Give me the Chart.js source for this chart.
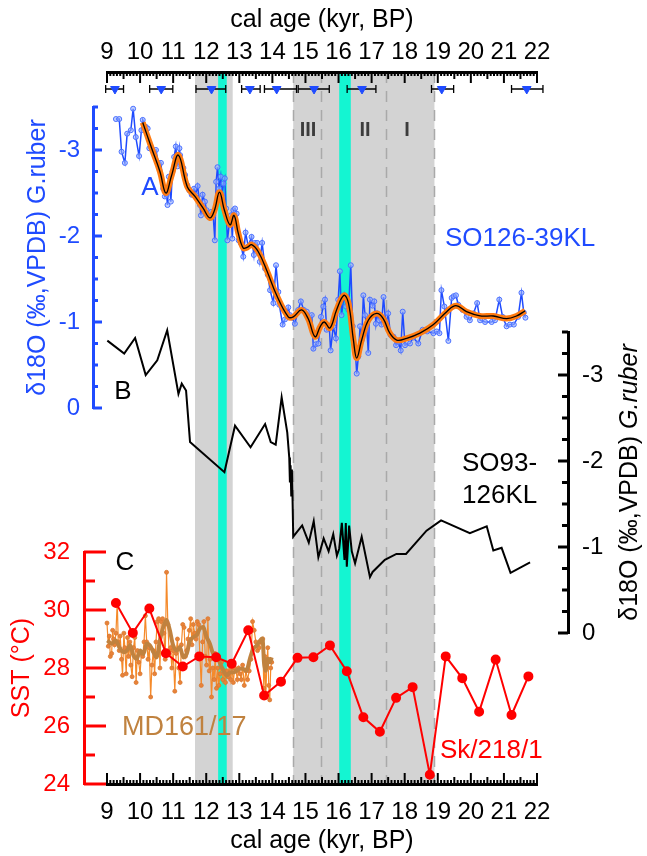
<!DOCTYPE html>
<html><head><meta charset="utf-8">
<script src="https://cdn.jsdelivr.net/npm/chart.js@4.4.1/dist/chart.umd.min.js"></script>
<style>
html,body{margin:0;padding:0;background:#fff;}
#wrap{position:relative;width:647px;height:856px;overflow:hidden;background:#fff;}
#wrap canvas{position:absolute;left:0;top:0;}
</style></head><body>
<div id="wrap">
<canvas id="cBase" width="647" height="856"></canvas>
<canvas id="cAge" width="647" height="856"></canvas>
<canvas id="cAxisA" width="647" height="856"></canvas>
<canvas id="cAxisB" width="647" height="856"></canvas>
<canvas id="cAxisC" width="647" height="856"></canvas>
<canvas id="cDataC" width="647" height="856"></canvas>
<canvas id="cDataB" width="647" height="856"></canvas>
<canvas id="cDataA" width="647" height="856"></canvas>
</div>
<script>
// ---------------- DATA ----------------
const ageTicks = [9,10,11,12,13,14,15,16,17,18,19,20,21,22];

// Age control points (calibrated 14C ages) with 2-sigma ranges
const ageCtrl   = [9.24, 10.64, 12.16, 13.32, 14.13, 15.26, 16.71, 19.12, 21.69];
const ageCtrlLo = [8.96, 10.29, 11.69, 13.07, 13.76, 14.78, 16.26, 18.81, 21.23];
const ageCtrlHi = [9.50, 10.99, 12.59, 13.63, 14.73, 15.72, 17.13, 19.48, 22.18];

// shaded intervals
const grayBands = [[11.66, 12.80], [14.63, 18.90]];
const cyanBands = [[12.36, 12.62], [16.02, 16.37]];
const dashedAges = [14.63, 15.46, 17.45, 18.90];

// A: SO126-39KL d18O G. ruber
const so126Age = [9.27,9.37,9.44,9.54,9.61,9.72,9.79,9.87,9.97,10.04,10.08,10.17,10.23,10.28,10.35,10.40,10.48,10.55,10.63,10.70,10.75,10.80,10.83,10.87,10.93,10.98,11.03,11.08,11.13,11.19,11.21,11.25,11.31,11.36,11.43,11.49,11.56,11.63,11.68,11.74,11.81,11.84,11.89,11.96,12.01,12.09,12.15,12.21,12.26,12.30,12.34,12.39,12.44,12.48,12.52,12.56,12.60,12.64,12.70,12.75,12.79,12.82,12.87,12.92,12.98,13.04,13.12,13.19,13.27,13.37,13.44,13.47,13.54,13.62,13.69,13.78,13.86,13.93,14.03,14.11,14.18,14.21,14.31,14.38,14.48,14.53,14.60,14.68,14.78,14.86,14.95,15.04,15.12,15.19,15.24,15.31,15.39,15.47,15.54,15.59,15.64,15.72,15.76,15.84,15.92,15.99,16.04,16.09,16.17,16.23,16.30,16.37,16.43,16.50,16.55,16.60,16.65,16.70,16.75,16.80,16.85,16.90,16.95,17.03,17.08,17.13,17.17,17.23,17.30,17.36,17.43,17.50,17.57,17.66,17.74,17.81,17.88,17.94,18.01,18.16,18.26,18.41,18.54,18.68,18.87,18.97,19.05,19.11,19.20,19.32,19.42,19.48,19.55,19.62,19.75,19.87,19.97,20.08,20.19,20.28,20.43,20.63,20.73,20.86,20.96,21.08,21.18,21.30,21.43,21.53,21.60,21.65];
const so126D18O = [-3.36,-3.36,-2.98,-2.85,-3.19,-3.23,-3.48,-3.15,-2.93,-3.23,-3.35,-3.27,-3.25,-3.02,-3.02,-2.98,-3.00,-2.85,-2.85,-2.55,-2.46,-2.48,-2.36,-2.69,-2.40,-2.75,-2.92,-3.04,-2.81,-3.02,-2.94,-2.81,-2.79,-2.71,-2.59,-2.53,-2.48,-2.55,-2.48,-2.58,-2.36,-2.24,-2.48,-2.40,-2.30,-2.22,-2.28,-2.24,-1.95,-2.63,-2.80,-2.55,-2.69,-2.48,-2.61,-2.67,-2.32,-1.95,-2.15,-2.24,-1.97,-2.30,-2.32,-2.26,-1.95,-1.92,-1.76,-2.04,-1.88,-1.99,-1.78,-1.92,-1.92,-1.70,-1.92,-1.62,-1.55,-1.37,-1.22,-1.66,-1.35,-1.20,-0.97,-1.03,-1.17,-1.08,-1.05,-0.98,-1.14,-1.24,-1.14,-1.12,-1.05,-1.08,-0.69,-0.74,-0.75,-1.06,-1.18,-1.26,-0.91,-0.95,-0.67,-0.95,-0.81,-1.26,-1.59,-1.08,-1.31,-1.18,-1.14,-1.66,-0.95,-0.71,-0.40,-0.60,-0.95,-0.79,-1.31,-1.08,-0.95,-0.64,-1.26,-1.19,-1.24,-0.98,-1.10,-1.02,-0.97,-1.29,-0.97,-1.10,-0.85,-0.83,-0.73,-0.77,-0.67,-1.12,-0.73,-0.75,-0.82,-0.75,-0.91,-0.89,-0.87,-0.89,-0.87,-1.37,-1.18,-0.78,-1.28,-1.30,-1.31,-1.20,-1.14,-1.06,-1.02,-1.10,-1.22,-1.02,-1.00,-1.00,-1.02,-1.26,-1.06,-0.95,-0.97,-0.97,-1.06,-1.34,-1.11,-1.05];
// A: smoothed record
const so126SmoothAge  = [10.08,10.35,10.60,10.78,10.95,11.16,11.43,11.66,11.91,12.11,12.25,12.40,12.55,12.72,12.84,12.97,13.12,13.25,13.37,13.57,13.83,14.13,14.48,14.63,14.88,15.08,15.29,15.45,15.57,15.74,15.94,16.16,16.30,16.45,16.55,16.70,16.90,17.15,17.35,17.55,17.76,18.06,18.46,18.87,19.27,19.55,19.87,20.28,20.68,21.08,21.38,21.64];
const so126SmoothD18O = [-3.32,-3.02,-2.75,-2.50,-2.70,-2.94,-2.57,-2.46,-2.32,-2.21,-2.30,-2.51,-2.30,-2.13,-2.24,-2.03,-1.86,-1.87,-1.90,-1.82,-1.60,-1.31,-1.06,-1.06,-1.14,-1.04,-0.83,-0.95,-1.00,-0.93,-1.14,-1.31,-1.22,-0.79,-0.58,-0.79,-1.02,-1.10,-1.04,-0.87,-0.79,-0.81,-0.87,-0.97,-1.12,-1.19,-1.12,-1.07,-1.07,-1.04,-1.07,-1.13];

// B: SO93-126KL d18O G. ruber
const so93Age  = [9.01,9.52,9.85,10.17,10.52,10.82,11.16,11.26,11.39,11.51,12.55,12.87,13.34,13.78,13.95,14.10,14.28,14.45,14.51,14.53,14.55,14.57,14.59,14.61,14.63,14.90,15.10,15.25,15.39,15.55,15.70,15.84,15.95,16.02,16.10,16.18,16.22,16.25,16.32,16.40,16.50,16.70,16.95,17.03,17.40,17.75,18.04,18.66,19.10,19.97,20.48,20.68,20.93,21.20,21.79];
const so93D18O = [-3.40,-3.25,-3.43,-3.00,-3.17,-3.52,-2.78,-2.90,-2.82,-2.22,-1.87,-2.41,-2.16,-2.43,-2.22,-2.19,-2.74,-2.33,-2.04,-1.75,-1.95,-1.60,-1.90,-1.55,-1.12,-1.25,-1.05,-1.30,-0.88,-1.10,-0.95,-1.15,-0.90,-0.98,-1.28,-0.85,-1.28,-0.77,-1.25,-0.95,-0.81,-1.12,-0.65,-0.71,-0.85,-0.92,-0.92,-1.19,-1.31,-1.16,-1.24,-0.96,-0.99,-0.70,-0.82];

// C: Sk/218/1 SST
const skAge = [9.27,9.78,10.28,10.78,11.29,11.79,12.30,12.77,13.27,13.75,14.26,14.76,15.24,15.74,16.25,16.75,17.25,17.74,18.24,18.76,19.24,19.74,20.25,20.75,21.23,21.74];
const skSST = [30.24,29.21,30.05,28.51,28.05,28.40,28.37,28.15,29.30,27.05,27.53,28.35,28.37,28.78,27.89,26.30,25.80,26.97,27.34,24.32,28.40,27.65,26.49,28.29,26.38,27.71];

// C: MD161/17 SST
const mdAge = [9.00,9.04,9.07,9.10,9.14,9.17,9.20,9.23,9.27,9.31,9.34,9.37,9.40,9.44,9.47,9.51,9.54,9.58,9.62,9.65,9.69,9.72,9.76,9.80,9.84,9.88,9.92,9.96,10.00,10.04,10.08,10.12,10.16,10.20,10.24,10.28,10.32,10.36,10.40,10.44,10.48,10.52,10.56,10.60,10.64,10.68,10.72,10.76,10.80,10.84,10.88,10.92,10.96,11.00,11.05,11.09,11.13,11.17,11.21,11.25,11.29,11.33,11.37,11.41,11.45,11.49,11.53,11.57,11.61,11.65,11.69,11.73,11.77,11.81,11.85,11.89,11.93,11.97,12.01,12.05,12.09,12.12,12.16,12.20,12.24,12.27,12.31,12.35,12.38,12.42,12.46,12.50,12.54,12.58,12.62,12.66,12.70,12.74,12.78,12.82,12.86,12.90,12.94,12.98,13.02,13.06,13.10,13.15,13.20,13.25,13.30,13.35,13.40,13.45,13.50,13.55,13.60,13.65,13.68,13.71,13.74,13.77,13.80,13.83,13.86,13.89,13.92,13.95,13.98];
const mdSST = [29.55,28.75,29.10,28.40,28.50,29.30,29.00,28.80,29.20,30.30,28.90,28.60,29.10,28.30,27.75,29.20,28.70,27.80,29.05,28.40,28.90,28.10,27.70,28.70,29.05,27.50,28.60,28.20,27.80,28.50,28.40,28.90,29.80,28.90,28.30,28.70,27.00,28.10,28.60,27.80,28.90,29.60,29.70,28.00,29.60,29.70,29.20,28.30,31.30,29.50,28.50,28.70,28.00,28.60,27.20,28.50,29.00,28.00,27.50,28.80,29.50,29.40,28.40,28.60,29.00,29.30,29.70,28.80,29.50,29.20,29.00,29.60,29.50,28.40,27.40,28.90,29.60,28.40,28.10,29.70,27.90,28.30,27.00,28.00,27.60,28.50,27.30,28.00,27.40,27.80,28.20,27.60,27.90,27.50,27.90,27.70,28.10,27.60,28.00,27.50,28.00,27.90,27.60,28.00,27.80,27.60,28.10,27.40,27.90,27.60,27.90,28.30,29.60,29.30,28.90,28.60,28.70,28.90,28.90,29.00,27.30,28.40,27.00,28.10,28.70,27.40,26.90,28.00,28.20,30.10,28.10];
const mdSmoothAge = [9.01,9.14,9.27,9.37,9.49,9.60,9.70,9.80,9.90,10.00,10.10,10.20,10.30,10.40,10.50,10.60,10.70,10.80,10.90,11.00,11.11,11.20,11.31,11.41,11.51,11.61,11.71,11.81,11.91,12.01,12.11,12.21,12.32,12.42,12.52,12.62,12.72,12.82,12.92,13.02,13.12,13.22,13.32,13.42,13.53,13.63,13.70,13.75,13.80,13.86,13.93,13.98];
const mdSmoothSST = [28.95,28.84,28.95,28.72,28.55,28.60,28.78,28.43,28.32,28.60,28.49,28.84,28.78,28.55,28.37,28.95,29.41,29.65,29.30,28.78,28.60,28.72,28.37,28.49,28.95,29.07,29.13,29.36,29.41,29.07,28.84,28.49,28.43,28.15,27.91,27.74,27.85,27.85,27.91,27.97,27.97,27.91,28.32,28.66,28.78,28.95,29.01,28.15,27.91,28.32,28.20,28.37];

// ---------------- STYLE / SETUP ----------------
const FONT = "'Liberation Sans', Arial, Helvetica, sans-serif";
Chart.defaults.font.family = FONT;
Chart.defaults.animation = false;
Chart.defaults.responsive = false;
Chart.defaults.maintainAspectRatio = false;
Chart.defaults.devicePixelRatio = 1;
Chart.defaults.events = [];
Chart.defaults.plugins.legend.display = false;
Chart.defaults.plugins.tooltip.enabled = false;

const BLUE = '#1f4bff';
const RED = '#ff0000';
const ORANGE = '#f58a2a';
const BROWN = '#c0823f';
const CYAN = '#14f5d2';
const GRAY = '#d3d3d3';

const W = 647, H = 856;
const X_LEFT = 107, X_RIGHT = 537;       // plot area horizontal extent
const pts = (xs, ys) => xs.map((x, i) => ({x: x, y: ys[i]}));
const hiddenX = {type: 'linear', min: 9, max: 22, display: false};

// tick-mark plugin factory (major / mid / minor inward ticks)
function makeTickPlugin(axes) {
  return {
    id: 'tickMarks',
    afterDraw(chart) {
      const ctx = chart.ctx;
      axes.forEach(a => {
        const s = chart.scales[a.id];
        ctx.save();
        ctx.strokeStyle = a.color;
        ctx.lineWidth = a.width;
        const n = Math.round((a.to - a.from) / a.step);
        for (let i = 0; i <= n; i++) {
          const v = a.from + i * a.step;
          let len = a.minorLen;
          if (a.mid && Math.abs(v / a.mid - Math.round(v / a.mid)) < 1e-6) len = a.midLen;
          if (Math.abs(v / a.major - Math.round(v / a.major)) < 1e-6) len = a.majorLen;
          const p = s.getPixelForValue(v);
          ctx.beginPath();
          if (s.isHorizontal()) {
            const base = s.position === 'top' ? s.bottom : s.top;
            const dir = s.position === 'top' ? 1 : -1;
            ctx.moveTo(p, base); ctx.lineTo(p, base + dir * len);
          } else {
            const base = s.position === 'left' ? s.right : s.left;
            const dir = s.position === 'left' ? 1 : -1;
            ctx.moveTo(base, p); ctx.lineTo(base + dir * len, p);
          }
          ctx.stroke();
        }
        ctx.restore();
      });
    }
  };
}

// shaded intervals and dashed boundaries
const bandsPlugin = {
  id: 'bands',
  beforeDraw(chart) {
    const {ctx, chartArea: ca} = chart;
    const xs = chart.scales.x;
    ctx.save();
    ctx.fillStyle = GRAY;
    grayBands.forEach(b => {
      const x1 = xs.getPixelForValue(b[0]), x2 = xs.getPixelForValue(b[1]);
      ctx.fillRect(x1, ca.top, x2 - x1, ca.bottom - ca.top);
    });
    ctx.fillStyle = CYAN;
    cyanBands.forEach(b => {
      const x1 = xs.getPixelForValue(b[0]), x2 = xs.getPixelForValue(b[1]);
      ctx.fillRect(x1, ca.top, x2 - x1, ca.bottom - ca.top);
    });
    ctx.strokeStyle = '#a9a9a9';
    ctx.lineWidth = 1.5;
    ctx.setLineDash([11, 8]);
    dashedAges.forEach(a => {
      const x = Math.round(xs.getPixelForValue(a)) + 0.5;
      ctx.beginPath(); ctx.moveTo(x, ca.top); ctx.lineTo(x, ca.bottom); ctx.stroke();
    });
    ctx.restore();
  }
};

// text annotations
const labelsPlugin = {
  id: 'panelLabels',
  afterDraw(chart) {
    const ctx = chart.ctx;
    ctx.save();
    ctx.textBaseline = 'middle';
    const put = (t, x, y, font, color, align) => {
      ctx.font = font; ctx.fillStyle = color; ctx.textAlign = align || 'left';
      ctx.fillText(t, x, y);
    };
    put('A', 150, 188, '26px ' + FONT, BLUE, 'center');
    put('B', 123, 392, '26px ' + FONT, '#000', 'center');
    put('C', 125, 563, '26px ' + FONT, '#000', 'center');
    put('III', 308, 130, 'bold 20px ' + FONT, '#3c3c3c', 'center');
    put('II', 365, 130, 'bold 20px ' + FONT, '#3c3c3c', 'center');
    put('I', 407, 130, 'bold 20px ' + FONT, '#3c3c3c', 'center');
    put('SO126-39KL', 445, 239, '26px ' + FONT, BLUE, 'left');
    put('SO93-', 462, 464, '26px ' + FONT, '#000', 'left');
    put('126KL', 462, 496, '26px ' + FONT, '#000', 'left');
    put('MD161/17', 122, 728, '27px ' + FONT, BROWN, 'left');
    put('Sk/218/1', 440, 751, '26px ' + FONT, RED, 'left');
    ctx.restore();
  }
};

// ---------------- BASE: bands + age axes ----------------
const xAxisCommon = {
  type: 'linear', min: 9, max: 22,
  afterFit: s => { s.height = 72; },
  afterBuildTicks: s => { s.ticks = ageTicks.map(v => ({value: v})); },
  ticks: {autoSkip: false, maxRotation: 0, minRotation: 0, color: '#000', font: {size: 24}},
  grid: {display: false, drawTicks: false, tickLength: 0},
  border: {display: true, color: '#000', width: 3}
};
new Chart(document.getElementById('cBase'), {
  type: 'scatter',
  data: {datasets: []},
  options: {
    layout: {padding: {left: X_LEFT, right: W - X_RIGHT, top: 0, bottom: 0}},
    scales: {
      x: Object.assign({}, xAxisCommon, {
        position: 'bottom',
        ticks: Object.assign({}, xAxisCommon.ticks, {padding: 14}),
        title: {display: true, text: 'cal age (kyr, BP)', color: '#000', font: {size: 25}, padding: {top: 0, bottom: 0}}
      }),
      xTop: Object.assign({}, xAxisCommon, {
        position: 'top',
        ticks: Object.assign({}, xAxisCommon.ticks, {padding: 5}),
        title: {display: true, text: 'cal age (kyr, BP)', color: '#000', font: {size: 25}, padding: {top: 5, bottom: 0}}
      }),
      y: {display: false, min: 0, max: 1}
    }
  },
  plugins: [bandsPlugin, labelsPlugin, makeTickPlugin([
    {id: 'x', from: 9, to: 22, step: 0.1, major: 1, mid: 0.5, majorLen: 11, midLen: 7, minorLen: 4, color: '#000', width: 2},
    {id: 'xTop', from: 9, to: 22, step: 0.1, major: 1, mid: 0.5, majorLen: 11, midLen: 7, minorLen: 4, color: '#000', width: 2}
  ])]
});

// ---------------- AGE CONTROL POINTS ----------------
const errPlugin = {
  id: 'ageErr',
  beforeDatasetsDraw(chart) {
    const {ctx} = chart;
    const xs = chart.scales.x, ys = chart.scales.y;
    const y = ys.getPixelForValue(0);
    ctx.save();
    ctx.strokeStyle = '#000'; ctx.lineWidth = 1.3;
    ageCtrl.forEach((a, i) => {
      const x1 = xs.getPixelForValue(ageCtrlLo[i]), x2 = xs.getPixelForValue(ageCtrlHi[i]);
      ctx.beginPath();
      ctx.moveTo(x1, y); ctx.lineTo(x2, y);
      ctx.moveTo(x1, y - 4); ctx.lineTo(x1, y + 4);
      ctx.moveTo(x2, y - 4); ctx.lineTo(x2, y + 4);
      ctx.stroke();
    });
    ctx.restore();
  }
};
new Chart(document.getElementById('cAge'), {
  type: 'scatter',
  data: {datasets: [{
    data: ageCtrl.map(a => ({x: a, y: 0})),
    pointStyle: 'triangle', rotation: 180, pointRadius: 5,
    backgroundColor: BLUE, borderColor: BLUE, borderWidth: 1
  }]},
  options: {
    layout: {padding: {left: X_LEFT, right: W - X_RIGHT, top: 80, bottom: H - 98}},
    scales: {x: hiddenX, y: {display: false, min: -1, max: 1}}
  },
  plugins: [errPlugin]
});

// ---------------- PANEL A AXIS ----------------
new Chart(document.getElementById('cAxisA'), {
  type: 'scatter',
  data: {datasets: []},
  options: {
    layout: {padding: {left: 0, right: W - X_RIGHT, top: 107, bottom: H - 408}},
    scales: {
      x: hiddenX,
      y: {
        type: 'linear', position: 'left', min: -3.5, max: 0, reverse: true,
        afterFit: s => { s.width = 93; },
        ticks: {stepSize: 1, includeBounds: false, color: BLUE, font: {size: 24}, padding: 13},
        grid: {display: false, drawTicks: false, tickLength: 0},
        border: {display: true, color: BLUE, width: 3},
        title: {display: true, text: 'δ18O (‰,VPDB) G.ruber', color: BLUE, font: {size: 25}, padding: {top: 23, bottom: 0}}
      }
    }
  },
  plugins: [makeTickPlugin([{id: 'y', from: -3.5, to: 0, step: 0.25, major: 1, majorLen: 9, minorLen: 5, color: BLUE, width: 3}])]
});

// ---------------- PANEL B AXIS ----------------
const rightTitlePlugin = {
  id: 'rightTitle',
  afterDraw(chart) {
    const ctx = chart.ctx;
    const s = chart.scales.y;
    const cy = (s.top + s.bottom) / 2;
    const f1 = '25px ' + FONT, f2 = 'italic 25px ' + FONT;
    const t1 = 'δ18O (‰,VPDB) ', t2 = 'G.ruber';
    ctx.save();
    ctx.translate(630, cy);
    ctx.rotate(-Math.PI / 2);
    ctx.textBaseline = 'middle';
    ctx.textAlign = 'left';
    ctx.fillStyle = '#000';
    ctx.font = f1; const w1 = ctx.measureText(t1).width;
    ctx.font = f2; const w2 = ctx.measureText(t2).width;
    const start = -(w1 + w2) / 2;
    ctx.font = f1; ctx.fillText(t1, start, 0);
    ctx.font = f2; ctx.fillText(t2, start + w1, 0);
    ctx.restore();
  }
};
new Chart(document.getElementById('cAxisB'), {
  type: 'scatter',
  data: {datasets: []},
  options: {
    layout: {padding: {left: X_LEFT, right: 0, top: 332, bottom: H - 633}},
    scales: {
      x: {type: 'linear', display: false, min: 9, max: 22},
      y: {
        type: 'linear', position: 'right', min: -3.5, max: 0, reverse: true,
        afterFit: s => { s.width = 79; },
        ticks: {stepSize: 1, includeBounds: false, color: '#000', font: {size: 24}, padding: 14},
        grid: {display: false, drawTicks: false, tickLength: 0},
        border: {display: true, color: '#000', width: 3}
      }
    }
  },
  plugins: [rightTitlePlugin, makeTickPlugin([{id: 'y', from: -3.5, to: 0, step: 0.25, major: 1, majorLen: 10, minorLen: 6, color: '#000', width: 3}])]
});

// ---------------- PANEL C AXIS ----------------
new Chart(document.getElementById('cAxisC'), {
  type: 'scatter',
  data: {datasets: []},
  options: {
    layout: {padding: {left: 0, right: W - X_RIGHT, top: 552, bottom: H - 784}},
    scales: {
      x: hiddenX,
      y: {
        type: 'linear', position: 'left', min: 24, max: 32,
        afterFit: s => { s.width = 84; },
        ticks: {stepSize: 2, color: RED, font: {size: 24}, padding: 14},
        grid: {display: false, drawTicks: false, tickLength: 0},
        border: {display: true, color: RED, width: 3},
        title: {display: true, text: 'SST (°C)', color: RED, font: {size: 25}, padding: {top: 7, bottom: 0}}
      }
    }
  },
  plugins: [makeTickPlugin([{id: 'y', from: 24, to: 32, step: 1, major: 2, majorLen: 22, minorLen: 11, color: RED, width: 3}])]
});

// ---------------- PANEL C DATA ----------------
new Chart(document.getElementById('cDataC'), {
  type: 'scatter',
  data: {datasets: [
    {data: pts(skAge, skSST), showLine: true, borderColor: RED, borderWidth: 2, pointRadius: 4,
     pointBackgroundColor: RED, pointBorderColor: RED, clip: false},
    {data: pts(mdSmoothAge, mdSmoothSST), showLine: true, borderColor: BROWN, borderWidth: 4, pointRadius: 0,
     tension: 0.3, clip: false},
    {data: pts(mdAge, mdSST), showLine: true, borderColor: ORANGE, borderWidth: 1.2, pointRadius: 2,
     pointBackgroundColor: '#e8823a', pointBorderColor: '#d9782e', pointBorderWidth: 0.8, clip: false}
  ]},
  options: {
    layout: {padding: {left: X_LEFT, right: W - X_RIGHT, top: 552, bottom: H - 784}},
    scales: {x: hiddenX, y: {type: 'linear', display: false, min: 24, max: 32}}
  }
});

// ---------------- PANEL B DATA ----------------
new Chart(document.getElementById('cDataB'), {
  type: 'scatter',
  data: {datasets: [
    {data: pts(so93Age, so93D18O), showLine: true, borderColor: '#000', borderWidth: 2, pointRadius: 0, clip: false}
  ]},
  options: {
    layout: {padding: {left: X_LEFT, right: W - X_RIGHT, top: 332, bottom: H - 633}},
    scales: {x: hiddenX, y: {type: 'linear', display: false, min: -3.5, max: 0, reverse: true}}
  }
});

// ---------------- PANEL A DATA ----------------
new Chart(document.getElementById('cDataA'), {
  type: 'scatter',
  data: {datasets: [
    {data: pts(so126SmoothAge, so126SmoothD18O), showLine: true, borderColor: '#000', borderWidth: 1.3,
     pointRadius: 0, tension: 0.4, clip: false},
    {data: pts(so126SmoothAge, so126SmoothD18O), showLine: true, borderColor: '#ff7a10', borderWidth: 6,
     pointRadius: 0, tension: 0.4, clip: false},
    {data: pts(so126Age, so126D18O), showLine: true, borderColor: BLUE, borderWidth: 1.5, pointRadius: 2.5,
     pointBackgroundColor: 'rgba(150,175,255,0.6)', pointBorderColor: '#4a70ff', pointBorderWidth: 1, clip: false}
  ]},
  options: {
    layout: {padding: {left: X_LEFT, right: W - X_RIGHT, top: 107, bottom: H - 408}},
    scales: {x: hiddenX, y: {type: 'linear', display: false, min: -3.5, max: 0, reverse: true}}
  }
});
</script>
</body></html>
